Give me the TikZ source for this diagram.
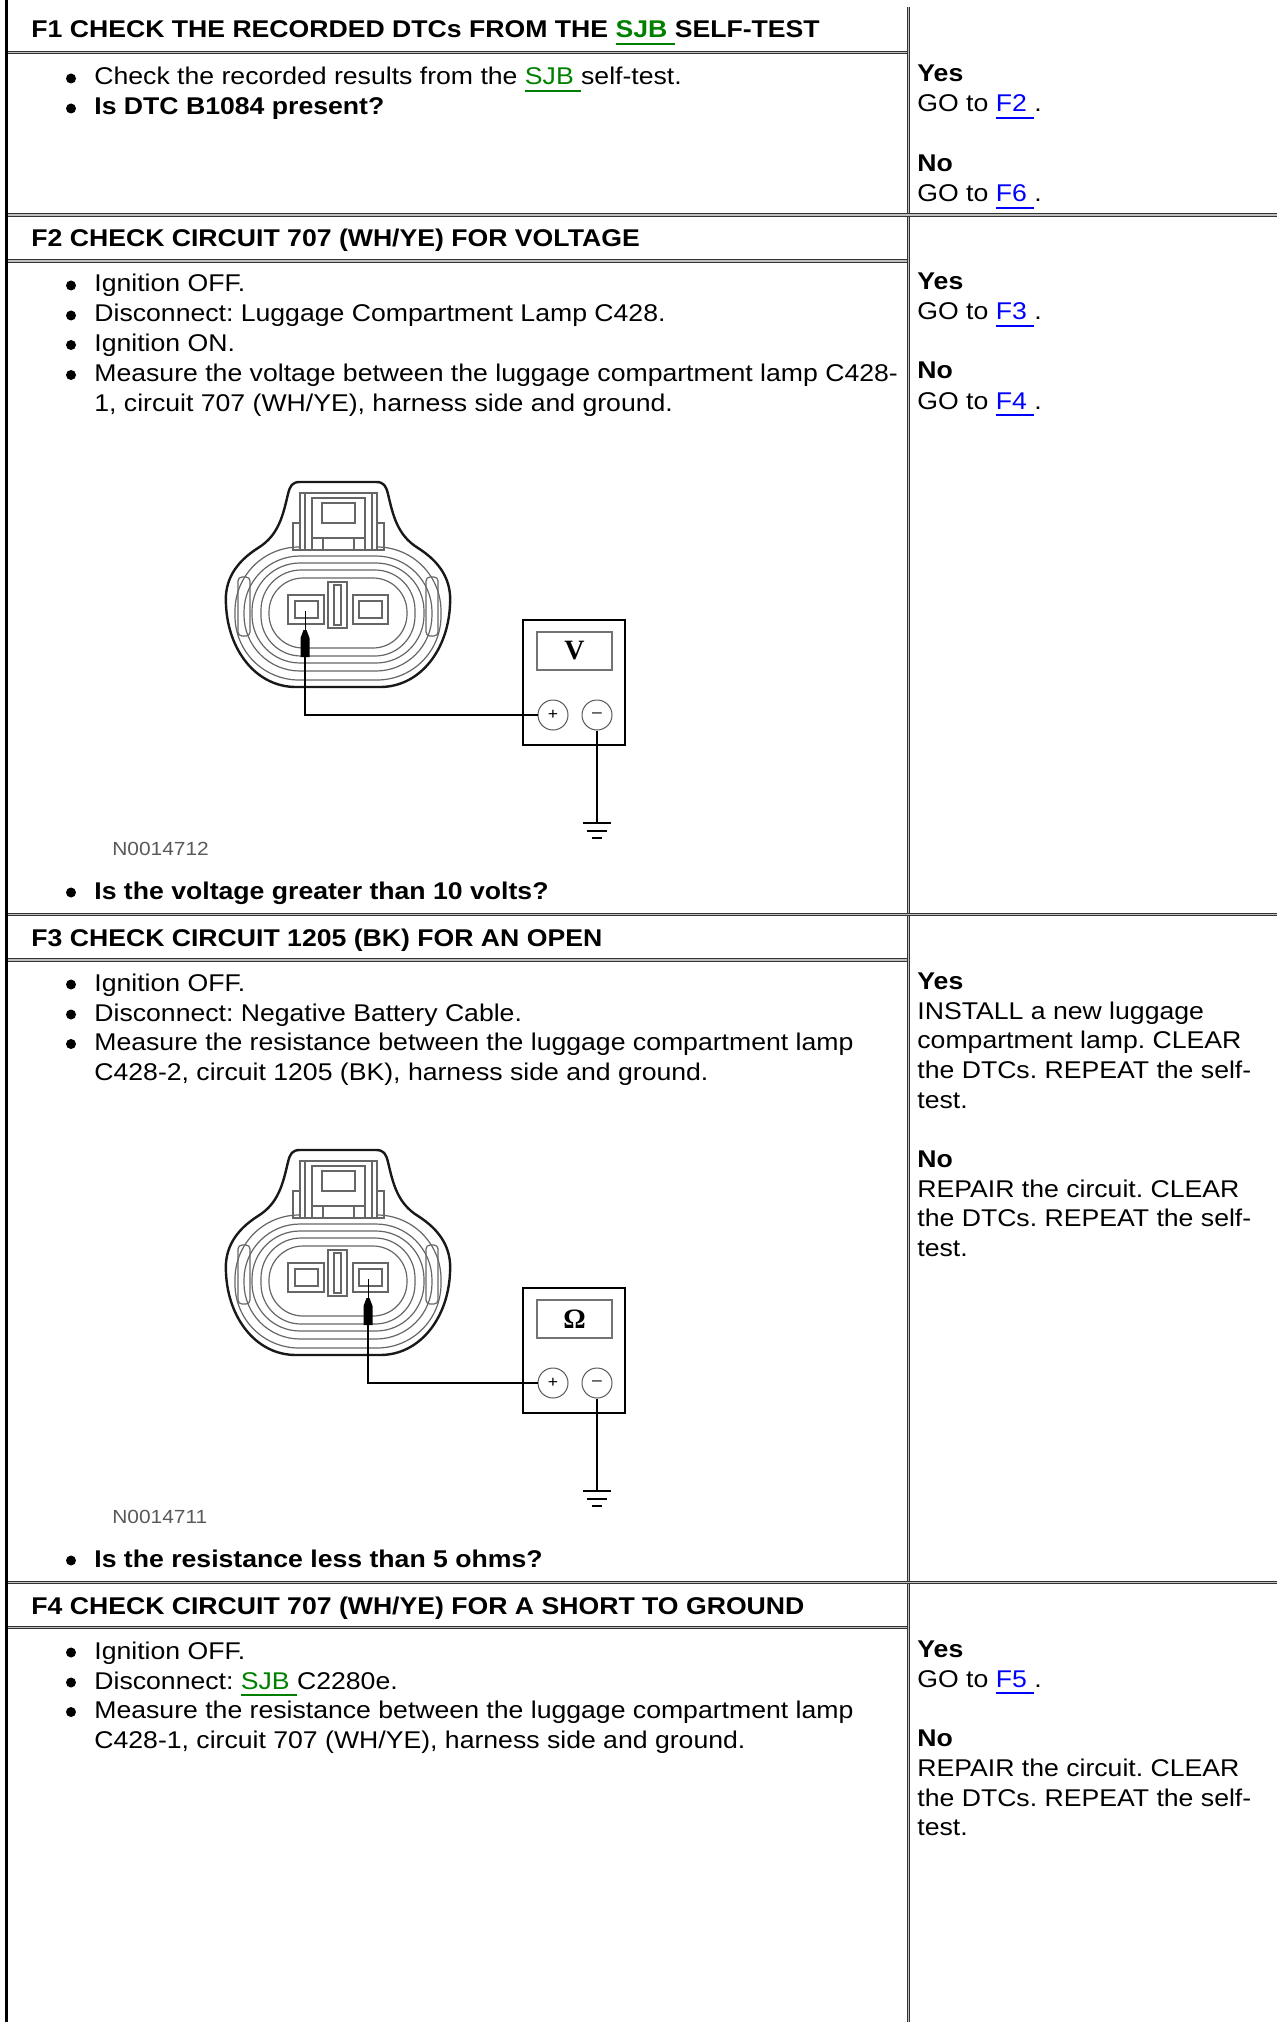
\documentclass[tikz,border=0pt]{standalone}
\usepackage{fontspec}
\setmainfont{Liberation Sans}[FakeStretch=1.1]
\newfontfamily\symbfont{Liberation Serif}
\frenchspacing

\definecolor{LinkBlue}{HTML}{0000FF}
\definecolor{LinkGreen}{HTML}{008000}
\definecolor{LineGray}{HTML}{333333}

% underlined link, the trailing space is underlined too
\newcommand{\lnk}[2]{\textcolor{#1}{\setbox0\hbox{#2}\rlap{\rule[-3.6pt]{\wd0}{1.1pt}}\box0}}

\begin{document}
\begin{tikzpicture}[x=0.5pt, y=-0.5pt,
  txt/.style={anchor=base west, inner sep=0pt, font=\fontsize{12.1}{15}\selectfont},
  txtb/.style={txt, font=\fontsize{12.1}{15}\selectfont\bfseries},
  dot/.style={circle, fill=black, inner sep=0pt, minimum size=5pt},
  leftrule/.style={line width=1.5pt, black},
  dbl/.style={draw=LineGray, double=black!25, line width=0.6pt, double distance=0.6pt},
  housing/.style={line width=1.2pt, black!90, line join=round},
  part/.style={line width=0.6pt, black!60},
  wire/.style={line width=1pt, black},
  meterbox/.style={draw, line width=1.2pt, fill=white, inner sep=0pt, minimum width=51pt, minimum height=62.5pt},
  window/.style={draw=black!55, line width=0.7pt, inner sep=0pt, minimum width=37.5pt, minimum height=19pt, font=\fontsize{14}{14}\symbfont\bfseries},
  jack/.style={circle, draw=black!65, line width=0.5pt, inner sep=0pt, minimum size=15pt, font=\fontsize{8}{8}\selectfont},
  figlabel/.style={anchor=base west, inner sep=0pt, text=black!65, font=\fontsize{9.5}{10}\selectfont}]

 \useasboundingbox (0,0) rectangle (1277,2022);

 %%%%%%%%%% Table rules %%%%%%%%%%
 \draw [leftrule] (6.5,0) -- (6.5,2022);
 \draw [dbl] (908.5,7) -- (908.5,2022);
 \foreach \y in {215,914.5,1582.5}
 {
   \draw [dbl] (8,\y) -- (1277,\y);
 }
 \foreach \y in {52.5,261,960,1627.5}
 {
   \draw [dbl] (8,\y) -- (907,\y);
 }

 %%%%%%%%%% Step F1 %%%%%%%%%%
 \node[txtb] (h1) at (31,38) {F1 CHECK THE RECORDED DTCs FROM THE \lnk{LinkGreen}{SJB\ }SELF-TEST};
 \node[dot] (d11) at (71,78.5) {};
 \node[txt] (t11) at (94,85) {Check the recorded results from the \lnk{LinkGreen}{SJB\ }self-test.};
 \node[dot] (d12) at (71,108.5) {};
 \node[txtb] (t12) at (94,115) {Is DTC B1084 present?};
 \node[txtb] (y1) at (917,82) {Yes};
 \node[txt] (gy1) at (917,112) {GO to \lnk{LinkBlue}{F2\ }.};
 \node[txtb] (n1) at (917,172) {No};
 \node[txt] (gn1) at (917,202) {GO to \lnk{LinkBlue}{F6\ }.};

 %%%%%%%%%% Step F2 %%%%%%%%%%
 \node[txtb] (h2) at (31,247) {F2 CHECK CIRCUIT 707 (WH/YE) FOR VOLTAGE};
 \node[dot] (d21) at (71,285.5) {};
 \node[txt] (t21) at (94,292) {Ignition OFF.};
 \node[dot] (d22) at (71,315.5) {};
 \node[txt] (t22) at (94,322) {Disconnect: Luggage Compartment Lamp C428.};
 \node[dot] (d23) at (71,345) {};
 \node[txt] (t23) at (94,351.5) {Ignition ON.};
 \node[dot] (d24) at (71,375) {};
 \node[txt] (t24) at (94,381.5) {Measure the voltage between the luggage compartment lamp C428-};
 \node[txt] (t25) at (94,411) {1, circuit 707 (WH/YE), harness side and ground.};
 \node[dot] (d26) at (71,892.5) {};
 \node[txtb] (t26) at (94,899) {Is the voltage greater than 10 volts?};
 \node[txtb] (y2) at (917,290) {Yes};
 \node[txt] (gy2) at (917,320) {GO to \lnk{LinkBlue}{F3\ }.};
 \node[txtb] (n2) at (917,379) {No};
 \node[txt] (gn2) at (917,409) {GO to \lnk{LinkBlue}{F4\ }.};

 %%%%%%%%%% Step F3 %%%%%%%%%%
 \node[txtb] (h3) at (31,946) {F3 CHECK CIRCUIT 1205 (BK) FOR AN OPEN};
 \node[dot] (d31) at (71,984.5) {};
 \node[txt] (t31) at (94,991) {Ignition OFF.};
 \node[dot] (d32) at (71,1014.5) {};
 \node[txt] (t32) at (94,1021) {Disconnect: Negative Battery Cable.};
 \node[dot] (d33) at (71,1044) {};
 \node[txt] (t33) at (94,1050.5) {Measure the resistance between the luggage compartment lamp};
 \node[txt] (t34) at (94,1080) {C428-2, circuit 1205 (BK), harness side and ground.};
 \node[dot] (d35) at (71,1560.5) {};
 \node[txtb] (t35) at (94,1567) {Is the resistance less than 5 ohms?};
 \node[txtb] (y3) at (917,989) {Yes};
 \node[txt] (i31) at (917,1019) {INSTALL a new luggage};
 \node[txt] (i32) at (917,1048.5) {compartment lamp. CLEAR};
 \node[txt] (i33) at (917,1078) {the DTCs. REPEAT the self-};
 \node[txt] (i34) at (917,1108) {test.};
 \node[txtb] (n3) at (917,1167) {No};
 \node[txt] (r31) at (917,1197) {REPAIR the circuit. CLEAR};
 \node[txt] (r32) at (917,1226.5) {the DTCs. REPEAT the self-};
 \node[txt] (r33) at (917,1256) {test.};

 %%%%%%%%%% Step F4 %%%%%%%%%%
 \node[txtb] (h4) at (31,1614) {F4 CHECK CIRCUIT 707 (WH/YE) FOR A SHORT TO GROUND};
 \node[dot] (d41) at (71,1652.5) {};
 \node[txt] (t41) at (94,1659) {Ignition OFF.};
 \node[dot] (d42) at (71,1682.5) {};
 \node[txt] (t42) at (94,1689) {Disconnect: \lnk{LinkGreen}{SJB\ }C2280e.};
 \node[dot] (d43) at (71,1712) {};
 \node[txt] (t43) at (94,1718.5) {Measure the resistance between the luggage compartment lamp};
 \node[txt] (t44) at (94,1748) {C428-1, circuit 707 (WH/YE), harness side and ground.};
 \node[txtb] (y4) at (917,1657) {Yes};
 \node[txt] (gy4) at (917,1687) {GO to \lnk{LinkBlue}{F5\ }.};
 \node[txtb] (n4) at (917,1746) {No};
 \node[txt] (r41) at (917,1776) {REPAIR the circuit. CLEAR};
 \node[txt] (r42) at (917,1806) {the DTCs. REPEAT the self-};
 \node[txt] (r43) at (917,1835.5) {test.};

 %%%%%%%%%% Connector and meter figures %%%%%%%%%%
 \foreach \k/\dy/\px/\sym/\lab in {1/0/305/V/N0014712, 2/668/368/Ω/N0014711}
 {
  \begin{scope}[shift={(0,\dy)}]
   % seal rings
   \draw [part, rounded corners=32pt] (235,547) rectangle (441,680);
   \draw [part, rounded corners=28pt] (244,556) rectangle (432,671);
   \draw [part, rounded corners=24pt] (252,563) rectangle (424,663);
   \draw [part, rounded corners=20pt] (261,570) rectangle (415,656);
   \draw [part, rounded corners=17pt] (269,578) rectangle (407,648);
   \draw [part, rounded corners=2pt] (238,577) rectangle (250,636);
   \draw [part, rounded corners=2pt] (426,577) rectangle (438,636);
   % housing
   \draw [housing] (300,482) -- (376,482)
     .. controls (384,482) and (386,486) .. (388,494)
     .. controls (393,515) and (397,535) .. (418,548)
     .. controls (440,562) and (452,580) .. (450,605)
     .. controls (448,650) and (420,687) .. (380,687)
     -- (296,687)
     .. controls (256,687) and (228,650) .. (226,605)
     .. controls (224,580) and (236,562) .. (258,548)
     .. controls (279,535) and (283,515) .. (288,494)
     .. controls (290,486) and (292,482) .. (300,482) -- cycle;
   % latch
   \draw [part, fill=white] (300,493) rectangle (377,550);
   \draw [part] (305,493) -- (305,550);
   \draw [part] (372,493) -- (372,550);
   \draw [part] (312,498) rectangle (365,538);
   \draw [part] (322,503) rectangle (355,523);
   \draw [part] (312,538) rectangle (323,550);
   \draw [part] (354,538) rectangle (365,550);
   \draw [part] (293,523) rectangle (300,550);
   \draw [part] (377,523) rectangle (384,550);
   % terminals
   \draw [part, fill=white] (288,595) rectangle (324,624);
   \draw [part, line width=1pt] (295,601) rectangle (318,618);
   \draw [part, fill=white] (353,595) rectangle (388,624);
   \draw [part, line width=1pt] (359,601) rectangle (382,618);
   \draw [part, fill=white] (328,582) rectangle (347,628);
   \draw [part] (334,585) rectangle (341,625);
   % probe
   \draw [line width=0.5pt] (\px,611) -- (\px,632);
   \fill (\px-4.5,657) -- (\px-4.5,638) -- (\px-1.5,630) -- (\px+1.5,630) -- (\px+4.5,638) -- (\px+4.5,657) -- cycle;
   \coordinate (tip\k) at (\px,657);
   % meter
   \node[meterbox] (meter\k) at (574,682.5) {};
   \node[window] (disp\k) at (574.5,651) {\sym};
   \node[jack] (plus\k) at (553,715) {+};
   \node[jack] (minus\k) at (597,715) {–};
   \coordinate (gnd\k) at (597,823);
   \draw [wire] (tip\k) |- (plus\k);
   \draw [wire] (minus\k) -- (gnd\k);
   \draw [wire] (gnd\k) ++(-14,0) -- ++(28,0) ++(-24,7.5) -- ++(20,0) ++(-15,7.5) -- ++(10,0);
   \node[figlabel] (lab\k) at (112,855) {\lab};
  \end{scope}
 }

\end{tikzpicture}
\end{document}
